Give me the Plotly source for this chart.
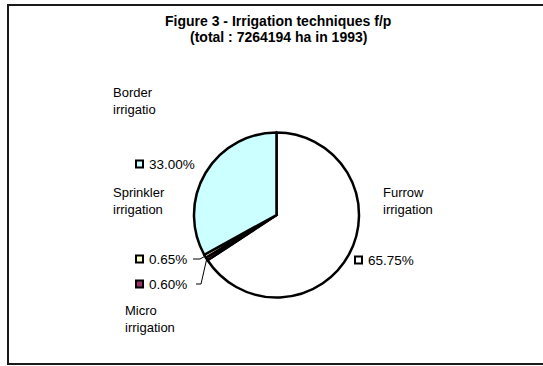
import math
import plotly.graph_objects as go

# ---- data ----
categories = ["Furrow irrigation", "Micro irrigation", "Sprinkler irrigation", "Border irrigatio"]
values = [65.75, 0.60, 0.65, 33.00]
colors = ["#FFFFFF", "#993366", "#FFFFCC", "#CCFFFF"]
title_lines = ["Figure 3 - Irrigation techniques f/p", "(total : 7264194 ha in 1993)"]

W, H = 543, 366
FONT = "Liberation Sans, Arial, sans-serif"

def px(x):
    return x / W

def py(y):
    return 1 - y / H

# pie geometry (pixels)
cx, cy, r = 276.5, 215, 82.5

fig = go.Figure(go.Pie(
    labels=categories,
    values=values,
    sort=False,
    direction="clockwise",
    rotation=0,
    marker=dict(colors=colors, line=dict(color="#000000", width=2.5)),
    textinfo="none",
    hoverinfo="label+percent",
    showlegend=False,
    domain=dict(x=[px(cx - r), px(cx + r)], y=[py(cy + r), py(cy - r)]),
))

annotations = []
shapes = []

def text(x, y, t, size=13, bold=False, anchor="left"):
    annotations.append(dict(
        x=px(x), y=py(y), xref="paper", yref="paper", text=("<b>%s</b>" % t) if bold else t,
        showarrow=False, xanchor=anchor, yanchor="middle",
        font=dict(family=FONT, size=size, color="#000000"),
    ))

# title
text(278, 21, title_lines[0], size=14, bold=True, anchor="center")
text(278, 37, title_lines[1], size=14, bold=True, anchor="center")

# label layout (pixel positions of name lines and value rows)
name_pos = {
    "Furrow irrigation": (381, 192),
    "Border irrigatio": (111, 92),
    "Sprinkler irrigation": (111, 192),
    "Micro irrigation": (123, 310),
}
value_pos = {
    "Furrow irrigation": (355, 260),
    "Border irrigatio": (136, 164),
    "Sprinkler irrigation": (136, 259),
    "Micro irrigation": (136, 284),
}

total = sum(values)
cum = 0.0
for cat, v, col in zip(categories, values, colors):
    nx, ny = name_pos[cat]
    words = cat.split(" ")
    text(nx, ny, words[0])
    text(nx, ny + 17, words[1])
    sx, sy = value_pos[cat]
    shapes.append(dict(type="rect", xref="paper", yref="paper",
                       x0=px(sx), x1=px(sx + 7), y0=py(sy + 3.5), y1=py(sy - 3.5),
                       fillcolor=col, line=dict(color="#000000", width=2)))
    pct = 100 * v / total
    text(sx + 11, sy, "%.2f%%" % pct, size=13.5)
    # leader lines for the thin slices
    mid = (cum + v / 2) / total
    th = 2 * math.pi * mid
    ex, ey = cx + r * math.sin(th), cy - r * math.cos(th)
    if cat == "Sprinkler irrigation":
        pts = [(193, sy), (200, sy), (ex, ey)]
    elif cat == "Micro irrigation":
        pts = [(196, sy), (201, sy), (ex, ey)]
    else:
        pts = []
    for (x0, y0), (x1, y1) in zip(pts[:-1], pts[1:]):
        shapes.append(dict(type="line", xref="paper", yref="paper",
                           x0=px(x0), y0=py(y0), x1=px(x1), y1=py(y1),
                           line=dict(color="#000000", width=1)))
    cum += v

# outer frame (right edge lies outside the picture)
shapes.append(dict(type="rect", xref="paper", yref="paper",
                   x0=px(8), x1=px(560), y0=py(364), y1=py(5),
                   line=dict(color="#1a1a1a", width=2), fillcolor="rgba(0,0,0,0)", layer="below"))

fig.update_layout(
    width=W, height=H,
    margin=dict(l=0, r=0, t=0, b=0),
    paper_bgcolor="#FFFFFF",
    plot_bgcolor="#FFFFFF",
    annotations=annotations,
    shapes=shapes,
)

fig.write_html("out.html", config={"displayModeBar": False})
